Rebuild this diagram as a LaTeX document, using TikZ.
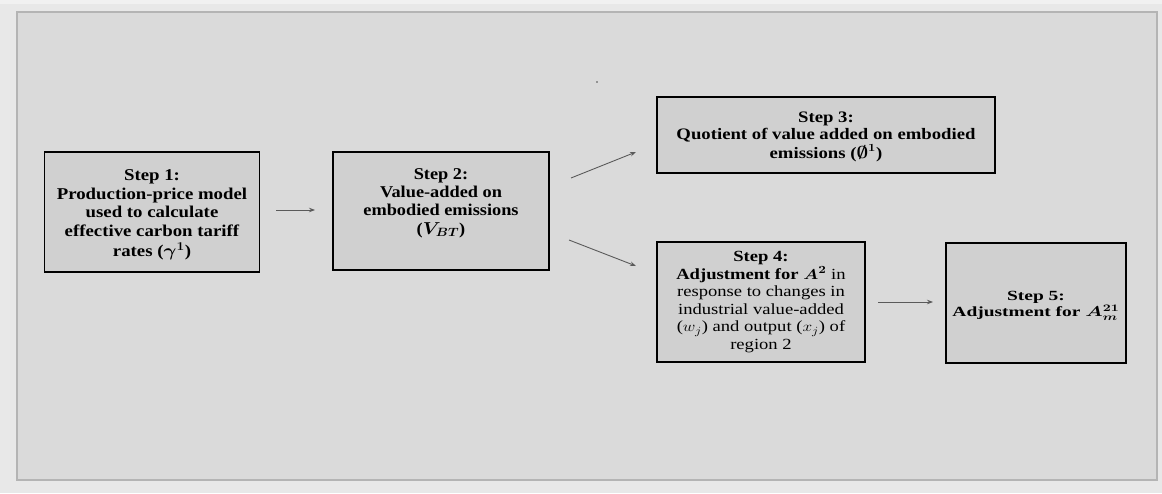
\documentclass[tikz,border=0pt]{standalone}
\usepackage{amsmath,bm}
\usepackage{fontspec}
\setmainfont{Liberation Serif}
\usetikzlibrary{arrows.meta}
\definecolor{outerbg}{HTML}{E8E8E8}
\definecolor{panelbg}{HTML}{DADADA}
\definecolor{panelrim}{HTML}{B4B4B4}
\definecolor{boxfill}{HTML}{D0D0D0}
\definecolor{arrowgray}{HTML}{5A5A5A}
% wide, centred block of lines: #1 horizontal stretch, #2 size, #3 leading, #4 lines
\newcommand\widelines[4]{\scalebox{#1}[1]{\fontsize{#2}{#3}\selectfont
  \renewcommand\arraystretch{1}\begin{tabular}{@{}c@{}}#4\end{tabular}}}
\tikzset{
  stepbox/.style={draw=black, line width=1.6pt, fill=boxfill, inner sep=0pt},
  steplabel/.style={inner sep=0pt},
  flow/.style={draw=arrowgray, line width=0.9pt,
    -{Stealth[length=6pt,width=4.5pt]}}
}
\begin{document}
\begin{tikzpicture}[x=1pt,y=-1pt]
  % page and framed panel
  \useasboundingbox (0,0) rectangle (1162,493);
  \fill[outerbg] (0,0) rectangle (1162,493);
  \fill[white!40!outerbg] (0,0) rectangle (1162,4);
  \fill[panelrim] (16,11) rectangle (1158,481);
  \fill[panelbg] (18,13) rectangle (1156,479);

  % process step boxes
  \node[stepbox, minimum width=215, minimum height=120] (s1) at (152,212) {};
  \node[stepbox, minimum width=216, minimum height=118] (s2) at (441,211) {};
  \node[stepbox, minimum width=338, minimum height=76]  (s3) at (826,135) {};
  \node[stepbox, minimum width=208, minimum height=120] (s4) at (761,302) {};
  \node[stepbox, minimum width=180, minimum height=120] (s5) at (1036,303) {};

  % step texts
  \node[steplabel] (t1) at (152,214.5) {\widelines{1.14}{16.5}{18.8}{%
     \textbf{Step 1:}\\ \textbf{Production-price model}\\ \textbf{used to calculate}\\
     \textbf{effective carbon tariff}\\ \textbf{rates ($\bm{\gamma^1}$)}}};
  \node[steplabel] (t2) at (441,203) {\widelines{1.11}{16.5}{18.4}{%
     \textbf{Step 2:}\\ \textbf{Value-added on}\\ \textbf{embodied emissions}\\
     \textbf{($\bm{V_{BT}}$)}}};
  \node[steplabel] (t3) at (826,137) {\widelines{1.17}{16}{17}{%
     \textbf{Step 3:}\\ \textbf{Quotient of value added on embodied}\\
     \textbf{emissions ($\bm{\emptyset^1}$)}}};
  \node[steplabel] (t4) at (761,302) {\widelines{1.2}{15.5}{17.6}{%
     \textbf{Step 4:}\\ \textbf{Adjustment for $\bm{A^2}$} in\\ response to changes in\\
     industrial value-added\\ ($w_j$) and output ($x_j$) of\\ region 2}};
  \node[steplabel] (t5) at (1036,306) {\widelines{1.39}{14}{13.8}{%
     \textbf{Step 5:}\\ \textbf{Adjustment for $\bm{A_m^{21}}$}}};

  % connectors
  \coordinate (a1s) at (276,210); \coordinate (a1e) at (315,210);
  \coordinate (a2s) at (571,178); \coordinate (a2e) at (636,152);
  \coordinate (a3s) at (569,240); \coordinate (a3e) at (636,266);
  \coordinate (a4s) at (878,302); \coordinate (a4e) at (933,302);
  \draw[flow] (a1s) -- (a1e);
  \draw[flow] (a2s) -- (a2e);
  \draw[flow] (a3s) -- (a3e);
  \draw[flow] (a4s) -- (a4e);

  % stray mark
  \fill[black!70] (597,82) circle (0.8);
\end{tikzpicture}
\end{document}
